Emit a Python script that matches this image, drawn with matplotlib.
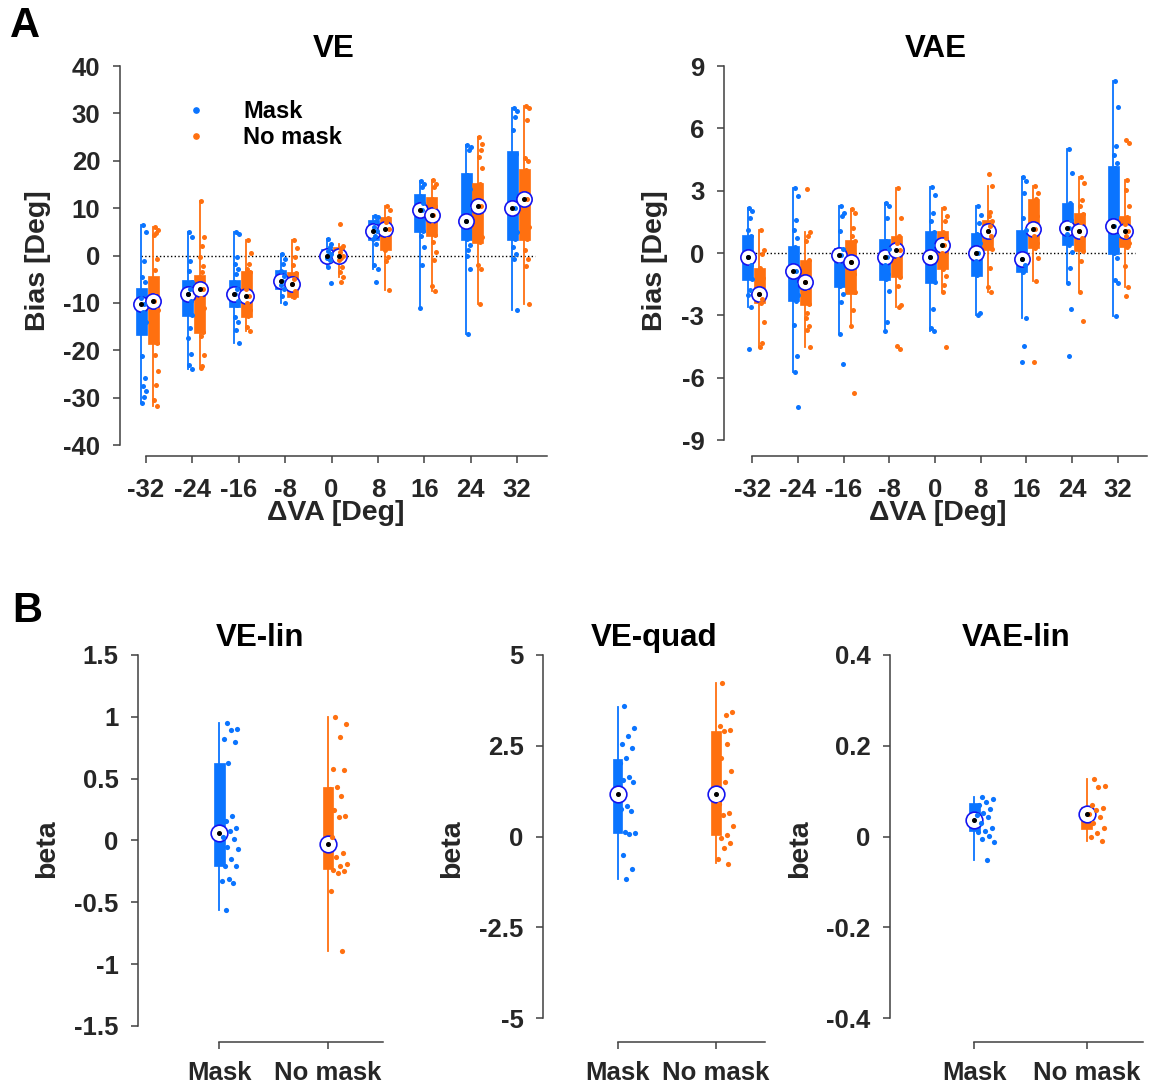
import numpy as np
import matplotlib.pyplot as plt
from matplotlib.lines import Line2D

plt.rcParams['font.family'] = ['Liberation Sans', 'DejaVu Sans']
plt.rcParams['font.weight'] = 'bold'
plt.rcParams['axes.unicode_minus'] = False

# ---------------- data ----------------
dva = [-32, -24, -16, -8, 0, 8, 16, 24, 32]
conds = ['Mask', 'No mask']

# VE bias, box stats per delta VA
ve_mask_med = [-10.3, -8.1, -8.1, -5.4, -0.2, 5.1, 9.5, 7.2, 10.1]
ve_mask_q1 = [-16.7, -12.7, -10.9, -7.0, -1.1, 3.3, 4.9, 3.3, 3.3]
ve_mask_q3 = [-6.8, -5.1, -5.1, -3.0, 1.3, 7.4, 12.9, 17.4, 22.0]
ve_mask_lo = [-31.1, -23.9, -18.5, -10.0, -2.5, -2.8, -11.0, -16.5, -11.5]
ve_mask_hi = [6.5, 4.9, 4.9, 0.4, 3.5, 8.4, 15.8, 23.4, 31.2]

ve_nomask_med = [-9.5, -7.0, -8.6, -6.1, 0.0, 5.5, 8.6, 10.5, 12.0]
ve_nomask_q1 = [-18.6, -16.4, -13.0, -8.8, -0.9, 1.1, 4.2, 2.6, 3.3]
ve_nomask_q3 = [-4.4, -4.1, -3.2, -3.5, 1.8, 8.2, 12.3, 15.3, 18.3]
ve_nomask_lo = [-31.8, -23.8, -16.0, -9.0, -4.6, -7.2, -7.4, -10.2, -10.2]
ve_nomask_hi = [6.0, 11.5, 3.3, 3.2, 2.4, 10.5, 16.0, 25.1, 31.6]

ve_mask_pts = [
    [6.5, 4.9, -1.2, -4.6, -5.5, -7.5, -9.0, -10.3, -12.0, -14.0, -16.0, -21.2, -25.8, -27.6, -28.7, -29.9, -31.1],
    [4.9, 4.0, -1.2, -3.2, -5.5, -7.0, -8.1, -9.5, -11.0, -12.5, -15.3, -17.4, -20.7, -23.2, -23.9],
    [4.9, 4.6, -0.4, -1.8, -2.8, -3.9, -5.5, -7.0, -8.1, -9.5, -10.5, -13.0, -14.1, -15.8, -18.5],
    [0.4, -0.7, -1.8, -3.2, -4.3, -5.4, -6.2, -7.0, -8.5, -10.0],
    [3.5, 2.5, 1.8, 1.0, 0.4, -0.2, -0.6, -1.0, -2.5, -5.8],
    [8.4, 8.1, 7.2, 6.0, 5.1, 4.2, 3.4, 2.5, -2.1, -2.8, -5.6],
    [15.8, 15.1, 14.4, 12.5, 11.0, 9.5, 7.0, 5.2, 4.2, 1.8, -2.1, -11.0],
    [23.4, 22.9, 22.3, 17.0, 14.0, 10.0, 7.2, 5.0, 3.5, 2.3, 1.2, -0.2, -2.8, -16.5],
    [31.2, 30.6, 29.3, 26.5, 21.5, 18.0, 14.0, 10.1, 7.0, 5.0, 3.5, 1.8, 0.35, -0.7, -11.5],
]
ve_nomask_pts = [
    [6.0, 5.3, 4.7, 4.4, -0.7, -3.0, -5.0, -7.5, -9.5, -11.5, -14.0, -16.5, -18.4, -21.0, -24.3, -27.3, -30.4, -31.8],
    [11.5, 4.0, 2.0, -0.4, -2.3, -3.4, -4.5, -7.0, -9.0, -11.0, -12.9, -14.5, -16.2, -16.9, -21.1, -23.3, -23.8],
    [3.3, 0.5, -1.8, -2.8, -3.5, -5.5, -7.0, -8.6, -10.0, -11.5, -12.8, -15.1, -16.0],
    [3.2, 1.6, -0.4, -2.1, -3.6, -5.0, -6.1, -7.5, -8.8],
    [6.7, 2.1, 1.6, 0.8, 0.0, -0.5, -0.9, -2.5, -3.5, -4.6, -5.6],
    [10.5, 9.5, 8.0, 7.0, 5.5, 3.5, 1.2, -0.35, -1.2, -7.2],
    [16.0, 15.1, 14.4, 12.0, 10.5, 8.6, 6.5, 4.4, 2.8, 0.7, -0.9, -6.5, -7.4],
    [25.1, 23.6, 22.2, 20.7, 18.5, 15.0, 13.0, 10.5, 7.0, 4.0, 2.8, -2.1, -2.8, -10.2],
    [31.6, 31.2, 28.5, 20.6, 19.9, 18.0, 15.0, 12.0, 9.0, 6.0, 3.5, 1.1, -0.7, -2.3, -10.2],
]

# VAE bias, box stats per delta VA
vae_mask_med = [-0.21, -0.85, -0.08, -0.19, -0.19, 0.0, -0.27, 1.2, 1.28]
vae_mask_q1 = [-1.28, -2.33, -1.64, -1.28, -1.44, -1.09, -0.93, 0.4, -0.03]
vae_mask_q3 = [0.88, 0.35, 0.22, 0.67, 1.04, 0.96, 1.12, 2.41, 4.17]
vae_mask_lo = [-2.6, -5.75, -3.9, -3.77, -3.77, -2.97, -3.13, -1.44, -3.05]
vae_mask_hi = [2.15, 3.13, 2.28, 2.41, 3.18, 2.25, 3.66, 5.0, 8.27]

vae_nomask_med = [-1.96, -1.41, -0.42, 0.13, 0.37, 1.08, 1.16, 1.08, 1.08]
vae_nomask_q1 = [-2.4, -2.49, -1.96, -1.17, -0.77, 0.16, 0.24, 0.08, 0.29]
vae_nomask_q3 = [-0.74, -0.35, 0.64, 0.83, 1.04, 1.57, 2.6, 1.93, 1.77]
vae_nomask_lo = [-4.5, -4.53, -3.53, -2.6, -1.9, -1.9, -1.36, -1.9, -1.64]
vae_nomask_hi = [1.12, 1.0, 2.13, 3.13, 2.17, 3.21, 3.21, 3.64, 3.5]

vae_mask_pts = [
    [2.15, 2.0, 1.7, 1.1, 0.8, 0.4, -0.21, -0.6, -1.0, -1.25, -1.77, -2.0, -2.6, -4.6],
    [3.13, 2.73, 1.6, 1.12, 0.72, 0.3, -0.3, -0.85, -1.5, -2.0, -2.3, -3.45, -4.94, -5.75, -7.43],
    [2.28, 1.93, 1.8, 1.04, 0.2, -0.08, -0.6, -1.2, -1.6, -1.96, -2.34, -3.9, -5.33],
    [2.41, 2.25, 1.7, 0.6, 0.2, -0.19, -0.6, -1.0, -1.25, -1.85, -3.3, -3.77],
    [3.18, 2.81, 1.93, 1.52, 1.0, 0.4, -0.19, -0.7, -1.1, -1.4, -2.7, -3.6, -3.77],
    [2.25, 1.85, 1.44, 0.9, 0.5, 0.0, -0.4, -0.8, -1.05, -2.89, -2.97],
    [3.66, 3.45, 2.89, 1.69, 1.1, 0.5, -0.27, -0.6, -0.9, -3.13, -4.49, -5.25],
    [5.0, 3.85, 2.4, 2.0, 1.6, 1.2, 0.9, 0.6, 0.4, 0.03, -0.72, -1.44, -2.7, -4.98],
    [8.27, 7.03, 5.14, 4.73, 4.33, 4.1, 3.2, 2.2, 1.28, 0.8, 0.3, 0.0, -0.24, -1.28, -1.44, -3.05],
]
vae_nomask_pts = [
    [1.12, 0.16, -0.03, -0.74, -1.2, -1.44, -1.96, -2.2, -2.4, -3.3, -4.33, -4.5],
    [3.08, 1.0, 0.8, 0.56, -0.35, -0.8, -1.41, -1.9, -2.2, -2.45, -2.89, -3.13, -3.53, -3.69, -4.53],
    [2.13, 1.93, 1.2, 0.8, 0.6, 0.1, -0.42, -1.0, -1.5, -1.9, -2.73, -3.53, -6.74],
    [3.13, 1.69, 0.8, 0.5, 0.13, -0.3, -0.8, -1.15, -1.6, -2.49, -2.6, -4.49, -4.62],
    [2.17, 1.77, 1.52, 1.0, 0.7, 0.37, 0.0, -0.4, -0.75, -1.12, -1.52, -1.9, -4.53],
    [3.82, 3.21, 1.96, 1.77, 1.55, 1.3, 1.08, 0.8, 0.5, 0.2, -0.72, -1.64, -1.9],
    [3.21, 2.89, 2.6, 2.2, 1.8, 1.16, 0.8, 0.5, 0.25, -0.24, -1.36, -5.25],
    [3.64, 3.37, 2.57, 2.28, 1.9, 1.5, 1.08, 0.7, 0.4, 0.1, -0.4, -1.9, -3.29],
    [5.43, 5.3, 3.5, 3.05, 2.25, 1.75, 1.4, 1.08, 0.8, 0.5, 0.3, -0.61, -1.64, -2.09],
]

# B: regression betas (Mask, No mask)
velin_med = [0.06, -0.03]
velin_q1 = [-0.21, -0.23]
velin_q3 = [0.63, 0.43]
velin_lo = [-0.56, -0.89]
velin_hi = [0.95, 1.0]
velin_pts = [
    [0.95, 0.9, 0.89, 0.82, 0.8, 0.63, 0.59, 0.2, 0.16, 0.1, 0.08, 0.03, 0.01,
     -0.05, -0.07, -0.15, -0.21, -0.21, -0.31, -0.33, -0.34, -0.56],
    [1.0, 0.94, 0.84, 0.58, 0.57, 0.43, 0.42, 0.36, 0.25, 0.2, 0.19, 0.03,
     -0.1, -0.13, -0.19, -0.21, -0.24, -0.25, -0.26, -0.41, -0.89],
]

vequad_med = [1.17, 1.18]
vequad_q1 = [0.09, 0.05]
vequad_q3 = [2.13, 2.91]
vequad_lo = [-1.17, -0.73]
vequad_hi = [3.58, 4.22]
vequad_pts = [
    [3.6, 3.0, 2.77, 2.55, 2.43, 2.16, 2.04, 1.65, 1.56, 1.5, 0.84, 0.75, 0.71,
     0.14, 0.09, 0.07, -0.51, -0.89, -1.17],
    [4.24, 3.42, 3.35, 3.05, 2.94, 2.92, 2.8, 2.55, 2.16, 1.82, 1.5, 0.89, 0.64,
     0.6, 0.28, 0.05, -0.03, -0.17, -0.32, -0.61, -0.75],
]

vaelin_med = [0.037, 0.049]
vaelin_q1 = [0.013, 0.016]
vaelin_q3 = [0.075, 0.066]
vaelin_lo = [-0.051, -0.009]
vaelin_hi = [0.087, 0.126]
vaelin_pts = [
    [0.087, 0.084, 0.077, 0.07, 0.06, 0.053, 0.048, 0.043, 0.029, 0.018, 0.013,
     0.011, 0.0015, -0.006, -0.012, -0.051],
    [0.127, 0.112, 0.109, 0.069, 0.063, 0.059, 0.049, 0.043, 0.029, 0.018,
     0.009, -0.0015, -0.009],
]

# ---------------- style ----------------
BLUE = '#0A74FF'
ORANGE = '#FF7010'
RING = '#1414F0'
AXC = '#404040'
TXT = '#262626'
W, H = 1158, 1086

fig = plt.figure(figsize=(W / 100, H / 100), dpi=100)


def add_ax(l, t, r, b):
    return fig.add_axes([l / W, 1 - b / H, (r - l) / W, (b - t) / H])


def jitter(n, lo, hi):
    return lo + (hi - lo) * ((np.arange(n) * 0.618034 + 0.3) % 1.0)


def draw_group(ax, x, pts, q1, med, q3, lo, hi, color, width, jlo, jhi, ring, dot_s):
    st = [dict(med=med, q1=q1, q3=q3, whislo=lo, whishi=hi, fliers=[])]
    ax.bxp(st, positions=[x], widths=[width], patch_artist=True,
           showcaps=False, showfliers=False, manage_ticks=False,
           boxprops=dict(facecolor=color, edgecolor=color, linewidth=0.5),
           whiskerprops=dict(color=color, linewidth=1.3),
           medianprops=dict(linewidth=0))
    ax.plot(x, med, 'o', ms=ring, mfc='white', mec=RING, mew=1.2, zorder=4)
    ax.scatter(x + jitter(len(pts), jlo, jhi), pts, s=dot_s, color=color,
               linewidths=0, zorder=5)
    ax.plot(x, med, 'o', ms=2.6, color='black', zorder=6)


def style(ax, xlim, ylim, yticks, ylabels, xticks, xlabels, xpad):
    ax.set_xlim(xlim)
    ax.set_ylim(ylim)
    ax.spines[['top', 'right']].set_visible(False)
    for s in ['left', 'bottom']:
        ax.spines[s].set_color(AXC)
        ax.spines[s].set_linewidth(1.1)
    ax.spines['left'].set_bounds(yticks[0], yticks[-1])
    ax.spines['bottom'].set_bounds(xticks[0], xlim[1])
    ax.set_yticks(yticks, labels=ylabels)
    ax.set_xticks(xticks, labels=xlabels)
    ax.tick_params(direction='out', length=5.2, width=1.1, color=AXC,
                   labelcolor=TXT, labelsize=18.5)
    ax.tick_params(axis='y', pad=9)
    ax.tick_params(axis='x', pad=xpad)
    ax.patch.set_visible(False)


def set_ylab(ax, text, xfrac):
    ax.set_ylabel(text, fontsize=20.5, fontweight='bold', color=TXT)
    ax.yaxis.set_label_coords(xfrac, 0.5)
    ax.yaxis.label.set_verticalalignment('center')


# ---------------- panel A ----------------
panels_a = [
    (add_ax(120, 66, 547, 456), 'VE', (-36.49, 37.17), (-42.32, 40),
     list(range(-40, 41, 10)), -0.192,
     (ve_mask_pts, ve_mask_q1, ve_mask_med, ve_mask_q3, ve_mask_lo, ve_mask_hi),
     (ve_nomask_pts, ve_nomask_q1, ve_nomask_med, ve_nomask_q3, ve_nomask_lo, ve_nomask_hi)),
    (add_ax(724, 66, 1146.7, 456), 'VAE', (-36.96, 37.08), (-9.77, 9),
     list(range(-9, 10, 3)), -0.163,
     (vae_mask_pts, vae_mask_q1, vae_mask_med, vae_mask_q3, vae_mask_lo, vae_mask_hi),
     (vae_nomask_pts, vae_nomask_q1, vae_nomask_med, vae_nomask_q3, vae_nomask_lo, vae_nomask_hi)),
]

for ax, title, xlim, ylim, yt, ylx, m, nm in panels_a:
    ax.plot([-32.8, 35.1], [0, 0], ':', color='black', lw=1.0, zorder=1.5)
    for i, v in enumerate(dva):
        draw_group(ax, v - 0.8, m[0][i], m[1][i], m[2][i], m[3][i], m[4][i], m[5][i],
                   BLUE, 1.9, 0.0, 0.85, 11, 13)
        draw_group(ax, v + 1.25, nm[0][i], nm[1][i], nm[2][i], nm[3][i], nm[4][i], nm[5][i],
                   ORANGE, 1.9, 0.0, 0.85, 11, 13)
    style(ax, xlim, ylim, yt, [str(t) for t in yt], dva, [str(t) for t in dva], 10.5)
    ax.set_title(title, fontsize=22.5, fontweight='bold', pad=6.5)
    set_ylab(ax, 'Bias [Deg]', ylx)
    ax.set_xlabel('ΔVA [Deg]', fontsize=20.5, fontweight='bold', color=TXT)
    ax.xaxis.set_label_coords(0.506, -0.146)
    ax.xaxis.label.set_verticalalignment('center')

leg_handles = [Line2D([0], [0], marker='o', ls='none', color=BLUE, ms=3.8),
               Line2D([0], [0], marker='o', ls='none', color=ORANGE, ms=3.8)]
panels_a[0][0].legend(leg_handles, conds, loc='upper left', bbox_to_anchor=(0.122, 0.913),
                      frameon=False, fontsize=17, handlelength=2, handletextpad=1,
                      labelspacing=0.15, borderpad=0, borderaxespad=0)

# ---------------- panel B ----------------
panels_b = [
    (add_ax(138.3, 655, 382.7, 1041.7), 'VE-lin', (0.255, 2.503), (-1.627, 1.5),
     [-1.5, -1, -0.5, 0, 0.5, 1, 1.5], ['-1.5', '-1', '-0.5', '0', '0.5', '1', '1.5'], -0.374,
     velin_pts, velin_q1, velin_med, velin_q3, velin_lo, velin_hi),
    (add_ax(543.3, 655, 765, 1041.7), 'VE-quad', (0.241, 2.503), (-5.644, 5),
     [-5, -2.5, 0, 2.5, 5], ['-5', '-2.5', '0', '2.5', '5'], -0.412,
     vequad_pts, vequad_q1, vequad_med, vequad_q3, vequad_lo, vequad_hi),
    (add_ax(890, 655, 1142.7, 1041.7), 'VAE-lin', (0.25, 2.5), (-0.4515, 0.4),
     [-0.4, -0.2, 0, 0.2, 0.4], ['-0.4', '-0.2', '0', '0.2', '0.4'], -0.356,
     vaelin_pts, vaelin_q1, vaelin_med, vaelin_q3, vaelin_lo, vaelin_hi),
]

for ax, title, xlim, ylim, yt, ytl, ylx, pts, q1, med, q3, lo, hi in panels_b:
    for i, c in enumerate([BLUE, ORANGE]):
        draw_group(ax, i + 1, pts[i], q1[i], med[i], q3[i], lo[i], hi[i],
                   c, 0.098, 0.02, 0.18, 12, 14)
    style(ax, xlim, ylim, yt, ytl, [1, 2], conds, 9)
    ax.set_title(title, fontsize=22.5, fontweight='bold', pad=6.5)
    set_ylab(ax, 'beta', ylx)

fig.text(10 / W, 1 - 6 / H, 'A', fontsize=30, fontweight='bold', va='top', ha='left')
fig.text(12 / W, 1 - 591 / H, 'B', fontsize=30, fontweight='bold', va='top', ha='left')

fig.savefig('out.png', dpi=100)
